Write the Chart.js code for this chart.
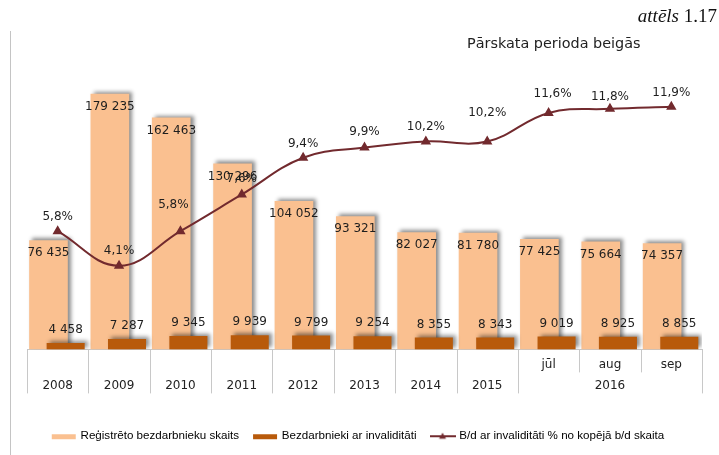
<!DOCTYPE html>
<html>
<head>
<meta charset="utf-8">
<script src="https://cdn.jsdelivr.net/npm/chart.js@4.4.0/dist/chart.umd.min.js"></script>
<style>
  html, body { margin: 0; padding: 0; background: #fff; }
  #wrap { position: relative; width: 719px; height: 455px; overflow: hidden; }
  #frame { position: absolute; left: 10px; top: 31px; width: 1px; height: 424px; background: #c4c4c4; }
  #fig { position: absolute; right: 2px; top: 5px; font-family: "Liberation Serif", serif; font-size: 19px; color: #111; }
  #title { position: absolute; left: 467px; top: 35px; font-family: "DejaVu Sans", sans-serif; font-size: 14.4px; color: #222; }
  canvas { position: absolute; left: 0; top: 0; }
</style>
</head>
<body>
<div id="wrap">
  <canvas id="chart" width="719" height="455"></canvas>
  <div id="frame"></div>
  <div id="fig"><i>attēls</i> 1.17</div>
  <div id="title">Pārskata perioda beigās</div>
</div>
<script>
// dati
const labelsYear = ['2008', '2009', '2010', '2011', '2012', '2013', '2014', '2015', '', '2016', ''];
const labelsMonth = ['', '', '', '', '', '', '', '', 'jūl', 'aug', 'sep'];
const registered = [76435, 179235, 162463, 130296, 104052, 93321, 82027, 81780, 77425, 75664, 74357];
const disabled = [4458, 7287, 9345, 9939, 9799, 9254, 8355, 8343, 9019, 8925, 8855];
const sharePct = [5.8, 4.1, 5.8, 7.6, 9.4, 9.9, 10.2, 10.2, 11.6, 11.8, 11.9];

const seriesNames = [
  'Reģistrēto bezdarbnieku skaits',
  'Bezdarbnieki ar invaliditāti',
  'B/d ar invaliditāti % no kopējā b/d skaita'
];

// krāsas un izvietojums
const lightColor = '#FAC090';
const darkColor = '#B85A0B';
const lineColor = '#722A2E';
const pctLabelLift = [14, 15, 26, 16, 14, 16, 15, 29, 19, 12, 14];
const pctLabelShift = [0, 0, -7, 0, 0, 0, 0, 0, 4, 0, 0];
const lightShift = 0.15;   // stabiņa nobīde pa kreisi (kategorijas daļās)
const darkShift = 0.13;    // pa labi

const catLabels = labelsYear.map((y, i) => [labelsMonth[i], y]);
const n = catLabels.length;

function fmtNum(v) {
  return String(v).replace(/\B(?=(\d{3})+(?!\d))/g, ' ');
}
function fmtPct(v) {
  return v.toFixed(1).replace('.', ',') + '%';
}

function swatch(draw) {
  const c = document.createElement('canvas');
  c.width = 26;
  c.height = 10;
  draw(c.getContext('2d'));
  return c;
}
const swatches = [
  swatch(g => { g.fillStyle = lightColor; g.fillRect(1, 3, 24, 5); }),
  swatch(g => { g.fillStyle = darkColor; g.fillRect(1, 3, 24, 5); }),
  swatch(g => {
    g.strokeStyle = lineColor; g.lineWidth = 2;
    g.beginPath(); g.moveTo(0, 5); g.lineTo(26, 5); g.stroke();
    g.fillStyle = lineColor;
    g.beginPath(); g.moveTo(13, 1.5); g.lineTo(16.5, 7.5); g.lineTo(9.5, 7.5); g.closePath(); g.fill();
  })
];

// ēna stabiņiem
const barShadow = {
  id: 'barShadow',
  beforeDatasetDraw(chart, args) {
    if (args.meta.type !== 'bar') return;
    const c = chart.ctx;
    c.save();
    c.shadowColor = 'rgba(0,0,0,0.45)';
    c.shadowBlur = 4;
    c.shadowOffsetX = 3;
    c.shadowOffsetY = -2;
  },
  afterDatasetDraw(chart, args) {
    if (args.meta.type !== 'bar') return;
    chart.ctx.restore();
  }
};

// tabulas līnijas zem ass
const tableLines = {
  id: 'tableLines',
  afterDraw(chart) {
    const x = chart.scales.x;
    const b = chart.chartArea.bottom;
    const half = (x.getPixelForValue(1) - x.getPixelForValue(0)) / 2;
    const c = chart.ctx;
    c.save();
    c.strokeStyle = '#c8c8c8';
    c.lineWidth = 1;
    for (let i = 0; i <= n; i++) {
      const px = Math.round(i < n ? x.getPixelForValue(i) - half : x.getPixelForValue(n - 1) + half) + 0.5;
      const short = i > 0 && i < n && labelsMonth[i] && labelsMonth[i - 1];
      c.beginPath();
      c.moveTo(px, b);
      c.lineTo(px, b + (short ? 23 : 44));
      c.stroke();
    }
    c.restore();
  }
};

// leģendu nedaudz pa kreisi
const legendNudge = {
  id: 'legendNudge',
  beforeDraw(chart) {
    const lg = chart.legend;
    if (!lg || lg._nudged) return;
    lg.left -= 6;
    lg.right -= 6;
    lg._nudged = true;
  }
};

// vērtību etiķetes
const valueLabels = {
  id: 'valueLabels',
  afterDatasetsDraw(chart) {
    const c = chart.ctx;
    c.save();
    c.font = '12px "DejaVu Sans"';
    c.fillStyle = '#1e1e1e';
    c.textAlign = 'center';
    c.textBaseline = 'middle';
    chart.getDatasetMeta(0).data.forEach((el, i) => {
      c.fillText(fmtNum(registered[i]), el.x, el.y + 13);
    });
    chart.getDatasetMeta(1).data.forEach((el, i) => {
      c.fillText(fmtNum(disabled[i]), el.x, el.y - 13);
    });
    chart.getDatasetMeta(2).data.forEach((el, i) => {
      c.fillText(fmtPct(sharePct[i]), el.x + pctLabelShift[i], el.y - pctLabelLift[i]);
    });
    c.restore();
  }
};

new Chart(document.getElementById('chart').getContext('2d'), {
  type: 'bar',
  data: {
    labels: catLabels,
    datasets: [
      {
        label: seriesNames[0],
        data: registered.map((v, i) => ({ x: i, y: v })),
        backgroundColor: lightColor,
        xAxisID: 'xl',
        yAxisID: 'y',
        order: 2,
        grouped: false,
        categoryPercentage: 1,
        barPercentage: 0.63
      },
      {
        label: seriesNames[1],
        data: disabled.map((v, i) => ({ x: i, y: v })),
        backgroundColor: darkColor,
        xAxisID: 'xr',
        yAxisID: 'y',
        order: 1,
        grouped: false,
        categoryPercentage: 1,
        barPercentage: 0.62
      },
      {
        type: 'line',
        label: seriesNames[2],
        data: sharePct,
        borderColor: lineColor,
        backgroundColor: lineColor,
        borderWidth: 2,
        tension: 0.4,
        pointStyle: 'triangle',
        pointRadius: 4,
        xAxisID: 'x',
        yAxisID: 'y2',
        order: 0
      }
    ]
  },
  options: {
    responsive: false,
    animation: false,
    layout: { padding: { top: 64, left: 27, right: 17, bottom: 3 } },
    scales: {
      x: {
        type: 'category',
        offset: true,
        grid: { display: false, drawTicks: false },
        border: { display: true, color: '#c8c8c8' },
        ticks: {
          autoSkip: false,
          maxRotation: 0,
          padding: 5,
          color: '#222',
          font: { family: 'DejaVu Sans', size: 12, lineHeight: 1.75 }
        },
        afterFit(s) { s.height = 66; }
      },
      xl: { type: 'linear', display: false, offset: false, min: -0.5 + lightShift, max: n - 0.5 + lightShift },
      xr: { type: 'linear', display: false, offset: false, min: -0.5 - darkShift, max: n - 0.5 - darkShift },
      y: { min: 0, max: 200000, display: false },
      y2: { min: 0, max: 14, display: false, position: 'right' }
    },
    plugins: {
      tooltip: { enabled: false },
      legend: {
        position: 'bottom',
        labels: {
          usePointStyle: true,
          pointStyleWidth: 22,
          boxHeight: 10,
          padding: 15,
          color: '#333',
          font: { family: 'Liberation Sans', size: 11.6 },
          generateLabels() {
            return seriesNames.map((t, i) => ({
              text: t,
              pointStyle: swatches[i],
              fillStyle: 'transparent',
              strokeStyle: 'transparent',
              lineWidth: 0,
              hidden: false,
              datasetIndex: i
            }));
          }
        }
      }
    }
  },
  plugins: [barShadow, tableLines, legendNudge, valueLabels]
});
</script>
</body>
</html>
